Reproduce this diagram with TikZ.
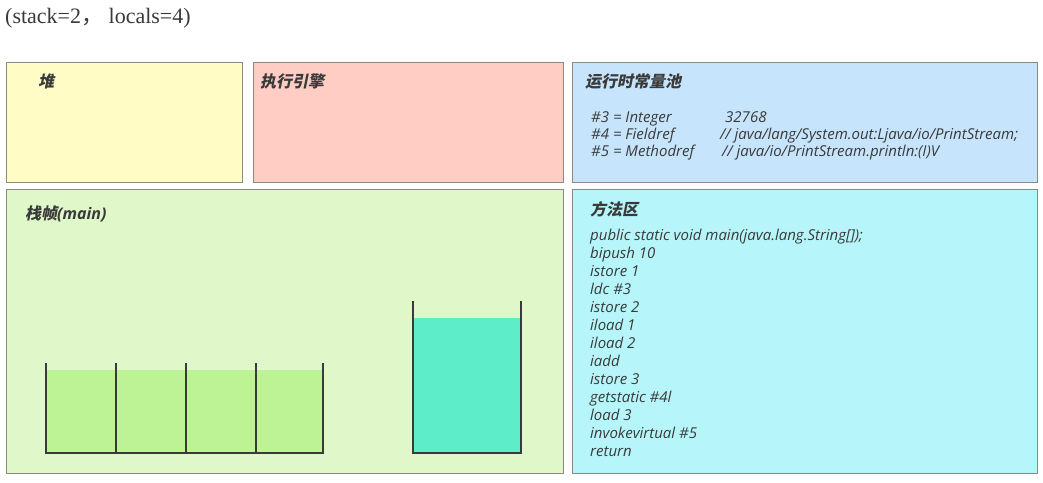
\documentclass[tikz,border=0pt]{standalone}
\usepackage{fontspec}
\setmainfont{Open Sans}
\newfontfamily\cjk[FakeSlant=0.2]{Noto Sans CJK SC}
\newfontfamily\cjkplain{Noto Sans CJK SC}
\newfontfamily\serifb{Liberation Serif}
\definecolor{heapc}{HTML}{FFFCC6}
\definecolor{enginec}{HTML}{FFCDC4}
\definecolor{poolc}{HTML}{C6E5FC}
\definecolor{framec}{HTML}{E0F8C9}
\definecolor{methodc}{HTML}{B6F6FB}
\definecolor{localc}{HTML}{BDF295}
\definecolor{opc}{HTML}{5EEDC9}
\definecolor{edgec}{HTML}{8A8A80}
\definecolor{inkc}{HTML}{3A3A3A}
\tikzset{
  area/.style={draw=edgec, line width=1pt},
  title/.style={anchor=west, inner sep=0pt, text=inkc, text height=12pt, text depth=3pt, font=\cjk\bfseries\fontsize{16}{18}\selectfont},
  code/.style={anchor=west, inner sep=0pt, text=inkc, text height=11pt, text depth=3pt, font=\itshape\fontsize{15}{17}\selectfont},
  wall/.style={draw=inkc, line width=1.6pt}
}
\begin{document}
\begin{tikzpicture}[x=1pt,y=-1pt]
\useasboundingbox (0,0) rectangle (1043,482);
\fill[white] (0,0) rectangle (1043,482);
% top label
\node[anchor=west, inner sep=0pt, font=\serifb\fontsize{22}{25}\selectfont, text=inkc] (hdr) at (5,18) {(stack=2{\cjkplain ，}\ locals=4)};
% boxes
\draw[area, fill=heapc] (6,62) rectangle (242,182);
\draw[area, fill=enginec] (253,62) rectangle (563,182);
\draw[area, fill=poolc] (572,62) rectangle (1037,182);
\draw[area, fill=framec] (6,189) rectangle (563,473);
\draw[area, fill=methodc] (572,189) rectangle (1037,473);
% titles
\node[title] (theap) at (38,83) {堆};
\node[title] (teng) at (260,83) {执行引擎};
\node[title] (tpool) at (585,83) {运行时常量池};
\node[title] (tframe) at (25,215) {栈帧{\normalfont\bfseries\itshape (main)}};
\node[title] (tmeth) at (590,211) {方法区};
% constant pool
\node[code] (c3) at (591,118) {\#3 = Integer};
\node[code] (c3v) at (725,118) {32768};
\node[code] (c4) at (591,135) {\#4 = Fieldref};
\node[code] (c4v) at (720,135) {// java/lang/System.out:Ljava/io/PrintStream;};
\node[code] (c5) at (591,152) {\#5 = Methodref};
\node[code] (c5v) at (722,152) {// java/io/PrintStream.println:(I)V};
% method area
\foreach \t [count=\i from 0] in {public static void main(java.lang.String[]);,bipush 10,istore 1,ldc \#3,istore 2,iload 1,iload 2,iadd,istore 3,getstatic \#4l,load 3,invokevirtual \#5,return}
  \node[code] (m\i) at (590,{236+18*\i}) {\t};
% local variable table
\fill[localc] (46,370) rectangle (323,453);
\draw[wall] (46,363) -- (46,453) -- (323,453) -- (323,363);
\foreach \x in {116,186,256} \draw[wall] (\x,363) -- (\x,453);
% operand stack
\fill[opc] (413,318) rectangle (521,453);
\draw[wall] (413,301) -- (413,453) -- (521,453) -- (521,301);
\end{tikzpicture}
\end{document}
